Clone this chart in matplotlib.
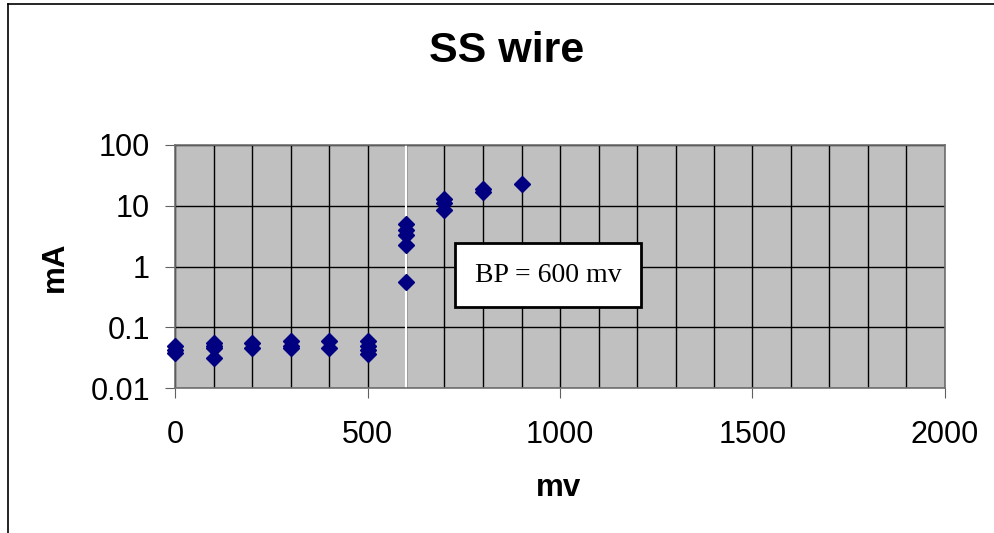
import matplotlib
matplotlib.use("Agg")
import matplotlib.pyplot as plt
from matplotlib.lines import Line2D
from matplotlib.ticker import FixedLocator, MultipleLocator, NullFormatter

plt.rcParams['font.family'] = ['Liberation Sans', 'DejaVu Sans']

# measured points (mv, mA)
mv = [0, 0, 0,
      100, 100, 100, 100,
      200, 200,
      300, 300, 300,
      400, 400,
      500, 500, 500, 500,
      600, 600, 600, 600, 600,
      700, 700, 700,
      800, 800,
      900]
ma = [0.050, 0.043, 0.037,
      0.055, 0.050, 0.045, 0.031,
      0.056, 0.045,
      0.060, 0.050, 0.045,
      0.060, 0.045,
      0.060, 0.050, 0.042, 0.036,
      5.0, 4.0, 3.3, 2.3, 0.56,
      13.0, 11.0, 8.5,
      19.0, 17.0,
      23.0]
bp = 600
x_ticks = [0, 500, 1000, 1500, 2000]
y_ticks = [0.01, 0.1, 1, 10, 100]
y_labels = ['0.01', '0.1', '1', '10', '100']

fig = plt.figure(figsize=(9.95, 5.33), dpi=100)
ax = fig.add_axes([175/995, 1 - 388/533, 770/995, 243/533])
ax.set_facecolor('#C0C0C0')

ax.set_yscale('log')
ax.set_xlim(0, 2000)
ax.set_ylim(0.01, 100)

ax.xaxis.set_major_locator(FixedLocator(x_ticks))
ax.xaxis.set_minor_locator(MultipleLocator(100))
ax.xaxis.set_minor_formatter(NullFormatter())
ax.set_yticks(y_ticks)
ax.set_yticklabels(y_labels)
ax.yaxis.set_minor_locator(FixedLocator([]))

ax.grid(True, which='both', axis='x', color='black', lw=1)
ax.grid(True, which='major', axis='y', color='black', lw=1)
ax.set_axisbelow(True)
ax.axvline(bp, color='white', lw=1.5, zorder=1.5)

ax.tick_params(axis='both', which='major', direction='out', length=7,
               color='#606060', labelsize=22)
ax.tick_params(axis='y', which='major', pad=11)
ax.tick_params(axis='x', which='major', pad=16)
ax.tick_params(axis='x', which='minor', length=0)
for s in ax.spines.values():
    s.set_color('#707070')
    s.set_linewidth(1.2)

ax.plot(mv, ma, 'D', color='#000080', markersize=8.5, linestyle='none',
        clip_on=False, zorder=3)

ax.text(548/995, 1 - 275/533, 'BP = 600 mv', transform=fig.transFigure,
        family=['Liberation Serif', 'DejaVu Serif'], fontsize=20,
        ha='center', va='center', zorder=4,
        bbox=dict(boxstyle='square,pad=0.7', facecolor='white',
                  edgecolor='black', lw=2))

fig.text(507/995, 1 - 51/533, 'SS wire', ha='center', va='center',
         fontsize=31, fontweight='bold')
fig.text(559/995, 1 - 488/533, 'mv', ha='center', va='center',
         fontsize=22.5, fontweight='bold')
fig.text(55/995, 1 - 267/533, 'mA', ha='center', va='center',
         fontsize=22.5, fontweight='bold', rotation=90)

# outer chart frame
fig.add_artist(Line2D([8/995, 8/995], [0, 1 - 4/533], color='black',
                      lw=1.2, transform=fig.transFigure))
fig.add_artist(Line2D([8/995, 1], [1 - 4/533, 1 - 4/533], color='black',
                      lw=1.2, transform=fig.transFigure))

fig.savefig('out.png', dpi=100)
